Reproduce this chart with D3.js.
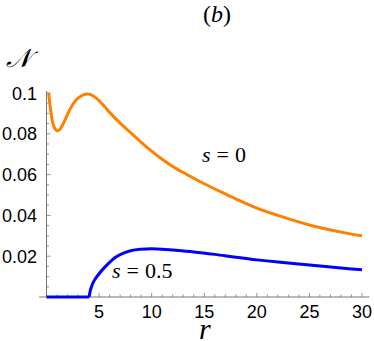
<!DOCTYPE html>
<html>
<head>
<meta charset="utf-8">
<script src="https://cdn.jsdelivr.net/npm/d3@7"></script>
<style>
  body { margin: 0; background: #fff; }
  svg text { fill: #000; }
</style>
</head>
<body>
<div id="chart"></div>
<script>
// values
const rS0 = [0.2, 0.3, 0.4, 0.5, 0.6, 0.8, 1.0, 1.2, 1.5, 2, 2.5, 3, 3.5, 3.9, 4.3, 4.7, 5, 5.5, 6, 7, 8, 9, 10, 11, 12, 13, 14, 15, 17, 20, 22, 25, 28, 30];
const nS0 = [0.1, 0.0955, 0.0915, 0.0880, 0.0852, 0.0825, 0.0815, 0.0818, 0.0840, 0.0895, 0.0945, 0.0975, 0.0991, 0.0995, 0.0990, 0.0976, 0.0962, 0.0935, 0.0905, 0.0852, 0.0806, 0.0758, 0.0715, 0.0675, 0.0640, 0.0610, 0.0582, 0.0555, 0.0505, 0.0436, 0.0400, 0.0353, 0.0318, 0.0300];
const rS05 = [0, 4.05, 4.2, 4.5, 5, 5.5, 6, 6.5, 7, 8, 9, 10, 11, 12, 14, 16, 18, 20, 22, 25, 28, 30];
const nS05 = [0, 0, 0.0038, 0.0078, 0.0114, 0.0144, 0.0170, 0.0192, 0.0208, 0.0227, 0.0234, 0.0236, 0.0234, 0.0230, 0.0221, 0.0209, 0.0195, 0.0182, 0.0171, 0.0157, 0.0142, 0.0133];
const xTicks = [5, 10, 15, 20, 25, 30];
const yTicks = [0.02, 0.04, 0.06, 0.08, 0.1];
const yTickLabels = ["0.02", "0.04", "0.06", "0.08", "0.1"];

const width = 374, height = 341;

const svg = d3.select("#chart").append("svg")
  .attr("width", width)
  .attr("height", height);

const x = d3.scaleLinear().domain([0, 30]).range([46.5, 362]);
const y = d3.scaleLinear().domain([0, 0.1]).range([297, 93]);

const axisColor = "#777";

// x axis line (runs a bit past both ends)
svg.append("line")
  .attr("x1", x(-0.7)).attr("x2", x(30.7))
  .attr("y1", y(0)).attr("y2", y(0))
  .attr("stroke", axisColor).attr("stroke-width", 1);

// y axis line
svg.append("line")
  .attr("x1", x(0)).attr("x2", x(0))
  .attr("y1", y(0)).attr("y2", y(0.101))
  .attr("stroke", axisColor).attr("stroke-width", 1);

// minor + major ticks on x
svg.append("g").selectAll("line")
  .data(d3.range(1, 31))
  .join("line")
  .attr("x1", d => x(d)).attr("x2", d => x(d))
  .attr("y1", y(0))
  .attr("y2", d => y(0) - (d % 5 === 0 ? 4 : 2.5))
  .attr("stroke", axisColor).attr("stroke-width", 0.8);

// minor + major ticks on y
svg.append("g").selectAll("line")
  .data(d3.range(1, 21).map(i => i * 0.005))
  .join("line")
  .attr("y1", d => y(d)).attr("y2", d => y(d))
  .attr("x1", x(0))
  .attr("x2", (d, i) => x(0) + ((i + 1) % 4 === 0 ? 4 : 2.5))
  .attr("stroke", axisColor).attr("stroke-width", 0.8);

// tick labels
svg.append("g").selectAll("text")
  .data(xTicks)
  .join("text")
  .attr("x", d => x(d))
  .attr("y", 318)
  .attr("text-anchor", "middle")
  .attr("font-family", "Liberation Sans, Arial, sans-serif")
  .attr("font-size", 18)
  .text(d => d);

svg.append("g").selectAll("text")
  .data(yTicks)
  .join("text")
  .attr("x", 37)
  .attr("y", d => y(d) + 6.5)
  .attr("text-anchor", "end")
  .attr("font-family", "Liberation Sans, Arial, sans-serif")
  .attr("font-size", 18)
  .text((d, i) => yTickLabels[i]);

// curves
const line = d3.line()
  .x(d => x(d[0]))
  .y(d => y(d[1]))
  .curve(d3.curveCatmullRom.alpha(0.5));

svg.append("path")
  .datum(d3.zip(rS0, nS0))
  .attr("d", line)
  .attr("fill", "none")
  .attr("stroke", "#ff8000")
  .attr("stroke-width", 3);

// s = 0.5 : flat part drawn straight, rest smooth
const s05 = d3.zip(rS05, nS05);
svg.append("path")
  .datum(s05.slice(0, 2))
  .attr("d", d3.line().x(d => x(d[0])).y(d => y(d[1])))
  .attr("fill", "none")
  .attr("stroke", "#0000ff")
  .attr("stroke-width", 3);
svg.append("path")
  .datum(s05.slice(1))
  .attr("d", line)
  .attr("fill", "none")
  .attr("stroke", "#0000ff")
  .attr("stroke-width", 3);

// labels
const serif = "Liberation Serif, Times New Roman, serif";

function mathLabel(px, py, rest) {
  const t = svg.append("text")
    .attr("x", px).attr("y", py)
    .attr("font-family", serif)
    .attr("font-size", 22);
  t.append("tspan").attr("font-style", "italic").text("s");
  t.append("tspan").attr("dx", 6).text("=");
  t.append("tspan").attr("dx", 6).text(rest);
}
mathLabel(202, 162, "0");
mathLabel(112, 278, "0.5");

const title = svg.append("text")
  .attr("x", 217).attr("y", 22)
  .attr("text-anchor", "middle")
  .attr("font-family", serif)
  .attr("font-size", 24);
title.append("tspan").text("(");
title.append("tspan").attr("font-style", "italic").text("b");
title.append("tspan").text(")");

svg.append("text")
  .attr("x", 6).attr("y", 67)
  .attr("font-family", "DejaVu Serif, serif")
  .attr("font-style", "italic")
  .attr("font-size", 26)
  .text("\u{1D4A9}");

svg.append("text")
  .attr("x", 199).attr("y", 339)
  .attr("font-family", serif)
  .attr("font-style", "italic")
  .attr("font-size", 30)
  .text("r");
</script>
</body>
</html>
